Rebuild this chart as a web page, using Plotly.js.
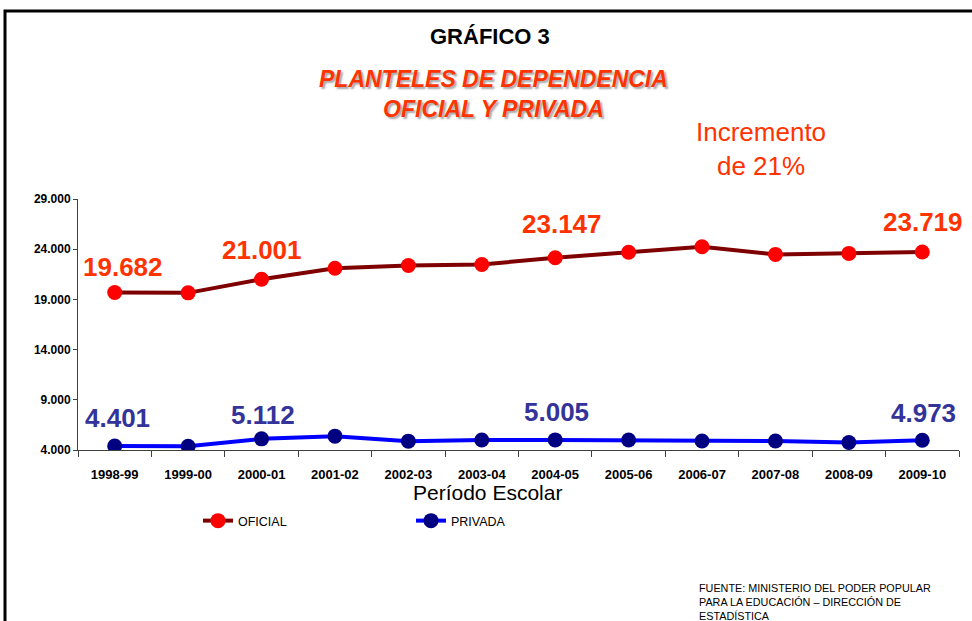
<!DOCTYPE html>
<html>
<head>
<meta charset="utf-8">
<script src="https://cdn.plot.ly/plotly-3.0.1.min.js"></script>
<style>html,body{margin:0;padding:0;background:#fff;}#chart{width:972px;height:621px;}</style>
</head>
<body>
<div id="chart"></div>
<script>
// ---- data ----
const periods = ["1998-99","1999-00","2000-01","2001-02","2002-03","2003-04","2004-05","2005-06","2006-07","2007-08","2008-09","2009-10"];
const oficial = [19682, 19650, 21001, 22100, 22380, 22480, 23147, 23700, 24250, 23480, 23580, 23719];
const privada = [4401, 4380, 5112, 5380, 4880, 5000, 5005, 5000, 4900, 4900, 4750, 4973];
const labeledIdx = [0, 2, 6, 11];
const seriesNames = ["OFICIAL", "PRIVADA"];
const yTicks = [4000, 9000, 14000, 19000, 24000, 29000];
const xTitle = "Período Escolar";

const SANS = '"Liberation Sans", Arial, sans-serif';

function fmt(v){ return String(v).replace(/\B(?=(\d{3})+(?!\d))/g, "."); }

const traces = [
  {x: periods, y: oficial, name: seriesNames[0], type: "scatter", mode: "lines+markers",
   line: {color: "#7f0000", width: 4}, marker: {color: "#ff0000", size: 15}},
  {x: periods, y: privada, name: seriesNames[1], type: "scatter", mode: "lines+markers",
   line: {color: "#0000ff", width: 4}, marker: {color: "#000080", size: 15}}
];

const ann = [];
const oShift = {0: [8, 26], 2: [0, 29], 6: [7, 34], 11: [1, 30]};
const pShift = {0: [3, 28], 2: [1, 24], 6: [1, 28], 11: [1, 27]};
labeledIdx.forEach(i => {
  ann.push({x: periods[i], y: oficial[i], xref: "x", yref: "y", text: fmt(oficial[i]), showarrow: false,
    xanchor: "center", yanchor: "middle",
    xshift: oShift[i][0], yshift: oShift[i][1], font: {family: SANS, size: 26, color: "#ff3300", weight: "bold"}});
  ann.push({x: periods[i], y: privada[i], xref: "x", yref: "y", text: fmt(privada[i]), showarrow: false,
    xanchor: "center", yanchor: "middle",
    xshift: pShift[i][0], yshift: pShift[i][1], font: {family: SANS, size: 26, color: "#333399", weight: "bold"}});
});

function px(xp){ return (xp - 78) / 881; }
function py(yp){ return (450 - yp) / 251; }

ann.push({xref: "paper", yref: "paper", x: px(490), y: py(37), xanchor: "center", yanchor: "middle",
  text: "<b>GRÁFICO 3</b>", showarrow: false, font: {family: SANS, size: 22, color: "#000"}});
ann.push({xref: "paper", yref: "paper", x: px(493), y: py(94), xanchor: "center", yanchor: "middle",
  text: "<b><i>PLANTELES DE DEPENDENCIA<br>OFICIAL Y PRIVADA</i></b>", showarrow: false,
  font: {family: SANS, size: 23, color: "#ff3300", shadow: "2px 2px 2px rgba(0,0,0,0.35)"}, align: "center"});
ann.push({xref: "paper", yref: "paper", x: px(761), y: py(149), xanchor: "center", yanchor: "middle",
  text: "Incremento<br>de 21%", showarrow: false, font: {family: SANS, size: 26, color: "#ff3300"}, align: "center"});
ann.push({xref: "paper", yref: "paper", x: px(487), y: py(492), xanchor: "center", yanchor: "middle",
  text: xTitle, showarrow: false, font: {family: SANS, size: 21, color: "#000"}});
ann.push({xref: "paper", yref: "paper", x: px(697), y: py(602), xanchor: "left", yanchor: "middle",
  text: "FUENTE: MINISTERIO DEL PODER POPULAR<br>PARA LA EDUCACIÓN – DIRECCIÓN DE<br>ESTADÍSTICA", showarrow: false,
  font: {family: SANS, size: 10.8, color: "#000"}, align: "left"});

const layout = {
  width: 972, height: 621,
  margin: {l: 78, r: 13, t: 199, b: 171, autoexpand: false},
  paper_bgcolor: "#fff", plot_bgcolor: "#fff",
  separators: ",.",
  showlegend: true,
  legend: {orientation: "h", x: px(198), y: py(521), xanchor: "left", yanchor: "middle",
    font: {family: SANS, size: 12.5, color: "#000"}, entrywidth: 168, itemwidth: 30, traceorder: "normal"},
  xaxis: {type: "category", range: [-0.5, 11.5], automargin: false, showline: true, linecolor: "#404040", linewidth: 1, ticks: "outside", ticklen: 6,
    tickcolor: "#404040", tickson: "boundaries", showgrid: false, zeroline: false, ticklabelstandoff: 12,
    tickfont: {family: SANS, size: 13, color: "#000", weight: "bold"}},
  yaxis: {range: [4000, 29000], automargin: false, tickvals: yTicks, tickformat: ",d", showline: true, linecolor: "#404040", linewidth: 1,
    ticks: "outside", ticklen: 4, tickcolor: "#404040", showgrid: false, zeroline: false,
    tickfont: {family: SANS, size: 12, color: "#000", weight: "bold"}},
  annotations: ann,
  shapes: [{type: "rect", xref: "paper", yref: "paper", x0: px(5), x1: px(1200), y0: py(700), y1: py(11),
    line: {color: "#000", width: 3}, fillcolor: "rgba(0,0,0,0)", layer: "below"}]
};

Plotly.newPlot("chart", traces, layout, {displayModeBar: false, staticPlot: true});
</script>
</body>
</html>
